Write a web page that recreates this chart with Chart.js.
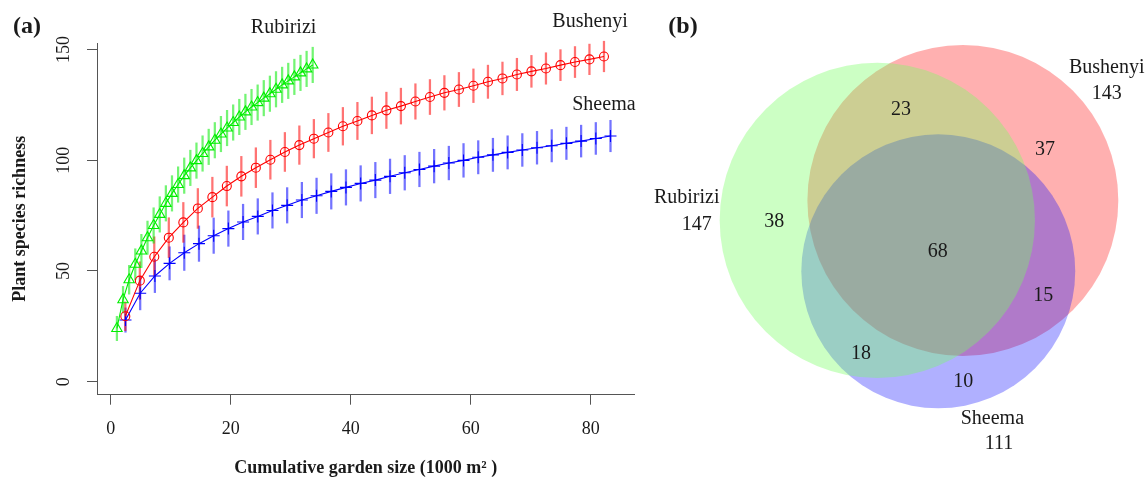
<!DOCTYPE html>
<html><head><meta charset="utf-8">
<script src="https://cdn.jsdelivr.net/npm/chart.js@4.4.1/dist/chart.umd.min.js"></script>
<style>
html,body{margin:0;padding:0;background:#fff;}
#wrap{position:relative;width:1148px;height:478px;overflow:hidden;background:#fff;}
#left{position:absolute;left:0;top:0;}
#right{position:absolute;left:645px;top:0;}
</style></head><body>
<div id="wrap">
<canvas id="left" width="645" height="478" style="width:645px;height:478px"></canvas>
<canvas id="right" width="503" height="478" style="width:503px;height:478px"></canvas>
</div>
<script>
// ---------------- DATA (panel a) ----------------
const rubiriziX = [1.02,2.04,3.06,4.08,5.10,6.12,7.14,8.16,9.18,10.20,11.22,12.24,13.26,14.28,15.30,16.32,17.34,18.36,19.38,20.40,21.42,22.44,23.46,24.48,25.50,26.52,27.54,28.56,29.58,30.60,31.62,32.64,33.66];
const rubiriziY = [24,37,46,53,59,65,70.5,75.5,80.5,85,89,93,96.5,99.8,103,106,109,111.8,114.5,117,119.5,121.8,124,126,128,130,132,134,135.8,137.6,139.4,141.2,143];
const rubiriziSD = [5.5,6,6.5,7,7.5,7.5,8,8,8,8,8,8,8,8,8,8,8,8,8,8,8,8,8,8,8,8,8,8,8,8,8,8,8];

const bushenyiX = [2.42,4.84,7.25,9.67,12.09,14.51,16.93,19.34,21.76,24.18,26.60,29.02,31.43,33.85,36.27,38.69,41.11,43.52,45.94,48.36,50.78,53.20,55.61,58.03,60.45,62.87,65.29,67.70,70.12,72.54,74.96,77.38,79.79,82.21];
const bushenyiY = [29.5,45.6,56.4,65.0,71.9,78.2,83.3,88.3,92.7,96.6,100.2,103.7,106.8,109.7,112.5,115.3,117.7,120.2,122.5,124.4,126.5,128.5,130.4,131.9,133.6,135.4,136.9,138.7,140.1,141.4,142.9,144.3,145.5,146.8];
const bushenyiSD = [6.5,8.5,9,9,9,9,9,9,9,9,8.8,8.8,8.7,8.7,8.6,8.5,8.4,8.3,8.2,8.1,8,7.9,7.8,7.7,7.6,7.5,7.4,7.3,7.2,7.1,7,7,6.9,6.9];

const sheemaX = [2.45,4.90,7.35,9.80,12.25,14.70,17.15,19.60,22.05,24.50,26.95,29.40,31.85,34.30,36.75,39.20,41.65,44.10,46.55,49.00,51.45,53.90,56.35,58.80,61.25,63.70,66.15,68.60,71.05,73.50,75.95,78.40,80.85,83.30];
const sheemaY = [27.8,39.9,47.7,53.4,58.2,62.3,65.9,69.1,72.1,74.6,77.3,79.6,82.0,83.9,85.9,87.7,89.5,91.0,92.7,94.3,95.8,97.3,98.7,99.9,101.3,102.4,103.5,104.6,105.6,106.5,107.6,108.6,109.8,110.9];
const sheemaSD = [5.5,7.5,7.5,7.5,8,8,8,8,8,8,8,8,8,8,8,8,8,8,7.8,7.8,7.8,7.6,7.6,7.6,7.5,7.5,7.5,7.4,7.4,7.3,7.3,7.2,7.2,7.1];

const xTickValues = [0,20,40,60,80];
const yTickValues = [0,50,100,150];
const siteNames = ['Rubirizi','Bushenyi','Sheema'];

// ---------------- DATA (panel b) ----------------
const vennTotals = [147,143,111];               // Rubirizi, Bushenyi, Sheema
const vennRegionCounts = [38,23,37,68,18,15,10]; // R, R∩B, B, R∩B∩S, R∩S, B∩S, S

// ---------------- LAYOUT / STYLE ----------------
const FONT = '"Liberation Serif","Times New Roman",serif';
const INK = '#1a1a1a';
const AXIS = '#555';
const lineColors = ['#00EE00','#FF0000','#0000FF'];
const barColors = ['rgba(0,235,0,0.55)','rgba(255,0,0,0.55)','rgba(0,0,255,0.55)'];
const pointStyles = ['triangle','circle','cross'];
const pointSizes = [6,4.5,6];
// label anchors in data units of panel (a)
const siteLabelPos = [[28.8,157.5],[79.9,160.0],[82.2,122.6]];

// venn layout, in venn units (13 px each)
const VENN_UNIT = 13;
const vennCenters = [[17.87,19.82],[24.45,21.35],[22.56,15.9]];
const vennFill = ['rgba(116,255,94,0.367)','rgba(255,0,0,0.31)','rgba(0,0,255,0.31)'];
const vennRegionPos = [[9.95,19.72],[19.69,28.31],[30.77,25.23],[22.52,17.41],[16.62,9.59],[30.64,14.0],[24.48,7.41]];
const vennNamePos = [[3.21,21.52],[35.52,31.52],[26.72,4.54]];
const vennTotalPos = [[3.98,19.46],[35.52,29.52],[27.23,2.67]];

// ---------------- PANEL (a) ----------------
const seriesX = [rubiriziX, bushenyiX, sheemaX];
const seriesY = [rubiriziY, bushenyiY, sheemaY];
const seriesSD = [rubiriziSD, bushenyiSD, sheemaSD];

const lineSets = seriesX.map((xs, s) => ({
  type: 'line',
  data: xs.map((x, i) => ({x, y: seriesY[s][i]})),
  borderColor: lineColors[s],
  borderWidth: 1.1,
  pointStyle: pointStyles[s],
  pointRadius: pointSizes[s],
  pointBorderColor: lineColors[s],
  pointBackgroundColor: 'rgba(0,0,0,0)',
  pointBorderWidth: 1.1,
  tension: 0,
  fill: false,
  clip: false,
  order: 1
}));
const barSets = seriesX.map((xs, s) => ({
  type: 'bar',
  data: xs.map((x, i) => ({x, y: [seriesY[s][i] - seriesSD[s][i], seriesY[s][i] + seriesSD[s][i]]})),
  backgroundColor: barColors[s],
  borderWidth: 0,
  barThickness: 1.6,
  grouped: false,
  clip: false,
  order: 2
}));

const leftDecor = {
  id: 'leftDecor',
  afterDraw(chart) {
    const {ctx, scales: {x, y}} = chart;
    ctx.save();
    ctx.fillStyle = INK;
    ctx.font = '18px ' + FONT;
    ctx.textAlign = 'center';
    ctx.textBaseline = 'middle';
    yTickValues.forEach(v => {
      ctx.save();
      ctx.translate(64.5, y.getPixelForValue(v));
      ctx.rotate(-Math.PI / 2);
      ctx.fillText(String(v), 0, 0);
      ctx.restore();
    });
    ctx.font = '20px ' + FONT;
    ctx.textBaseline = 'alphabetic';
    siteNames.forEach((n, i) => {
      ctx.fillText(n, x.getPixelForValue(siteLabelPos[i][0]), y.getPixelForValue(siteLabelPos[i][1]));
    });
    ctx.font = 'bold 24px ' + FONT;
    ctx.textBaseline = 'middle';
    ctx.fillText('(a)', 27, 27);
    ctx.restore();
  }
};

new Chart(document.getElementById('left'), {
  type: 'line',
  data: {datasets: [...lineSets, ...barSets]},
  options: {
    responsive: false, animation: false, devicePixelRatio: 1, events: [],
    layout: {padding: {top: 43, right: 10.5, bottom: 0, left: 0}},
    plugins: {legend: {display: false}, tooltip: {enabled: false}},
    scales: {
      x: {
        type: 'linear', min: -2.3, max: 87.3, offset: false,
        afterBuildTicks: s => { s.ticks = xTickValues.map(v => ({value: v})); },
        afterFit: s => { s.height = 83.3; },
        grid: {display: true, drawOnChartArea: false, drawTicks: true, tickLength: 10, color: AXIS, offset: false},
        border: {display: true, color: AXIS, width: 1},
        ticks: {color: INK, font: {family: FONT, size: 18}, padding: 14, maxRotation: 0, autoSkip: false},
        title: {display: true, text: 'Cumulative garden size (1000 m² )', color: INK,
                font: {family: FONT, size: 18, weight: 'bold', lineHeight: 1}, padding: {top: 0, bottom: 1}}
      },
      y: {
        type: 'linear', min: -5.9, max: 152.9,
        afterBuildTicks: s => { s.ticks = yTickValues.map(v => ({value: v})); },
        afterFit: s => { s.width = 97; },
        grid: {display: true, drawOnChartArea: false, drawTicks: true, tickLength: 10, color: AXIS},
        border: {display: true, color: AXIS, width: 1},
        ticks: {display: false},
        title: {display: true, text: 'Plant species richness', color: INK,
                font: {family: FONT, size: 18, weight: 'bold', lineHeight: 1}, padding: {top: 11, bottom: 0}}
      }
    }
  },
  plugins: [leftDecor]
});

// ---------------- PANEL (b) ----------------
const unitPx = ch => ch.scales.x.getPixelForValue(1) - ch.scales.x.getPixelForValue(0);
const drawOrder = [0, 2, 1]; // dataset index 0 drawn on top: red, then blue, then green
const vennSets = drawOrder.map(i => ({
  data: [{x: vennCenters[i][0], y: vennCenters[i][1]}],
  pointRadius: c => Math.sqrt(vennTotals[i]) * unitPx(c.chart),
  pointHoverRadius: c => Math.sqrt(vennTotals[i]) * unitPx(c.chart),
  pointBackgroundColor: vennFill[i],
  pointBorderColor: 'rgba(0,0,0,0)',
  pointBorderWidth: 0,
  clip: false
}));

const vennLabels = {
  id: 'vennLabels',
  afterDraw(chart) {
    const {ctx, scales: {x, y}} = chart;
    ctx.save();
    ctx.fillStyle = INK;
    ctx.font = '20px ' + FONT;
    ctx.textAlign = 'center';
    ctx.textBaseline = 'middle';
    vennRegionCounts.forEach((v, i) => {
      ctx.fillText(String(v), x.getPixelForValue(vennRegionPos[i][0]), y.getPixelForValue(vennRegionPos[i][1]));
    });
    siteNames.forEach((n, i) => {
      ctx.fillText(n, x.getPixelForValue(vennNamePos[i][0]), y.getPixelForValue(vennNamePos[i][1]));
      ctx.fillText(String(vennTotals[i]), x.getPixelForValue(vennTotalPos[i][0]), y.getPixelForValue(vennTotalPos[i][1]));
    });
    ctx.font = 'bold 24px ' + FONT;
    ctx.fillText('(b)', 38, 27);
    ctx.restore();
  }
};

new Chart(document.getElementById('right'), {
  type: 'scatter',
  data: {datasets: vennSets},
  options: {
    responsive: false, animation: false, devicePixelRatio: 1, events: [],
    layout: {padding: 0},
    plugins: {legend: {display: false}, tooltip: {enabled: false}},
    scales: {
      x: {type: 'linear', display: false, min: 0, max: 503 / VENN_UNIT},
      y: {type: 'linear', display: false, min: 0, max: 478 / VENN_UNIT}
    }
  },
  plugins: [vennLabels]
});
</script>
</body></html>
